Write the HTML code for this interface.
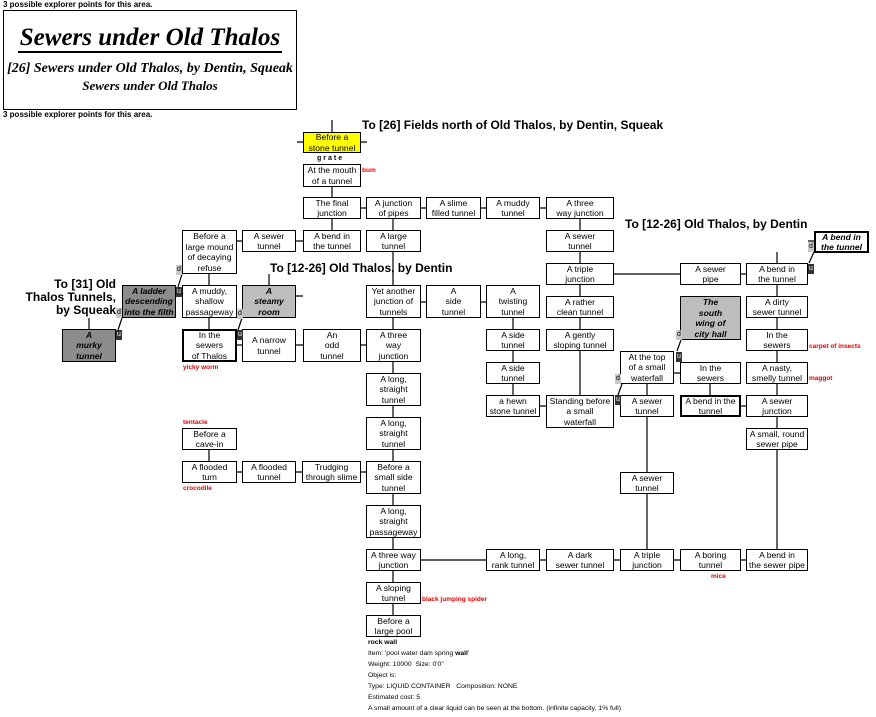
<!DOCTYPE html>
<html><head><meta charset="utf-8"><style>
body{margin:0;width:876px;height:717px;position:relative;background:#fff;font-family:"Liberation Sans",Arial,sans-serif;overflow:hidden}
.b{position:absolute;box-sizing:border-box;border:1px solid #000;background:#fff;display:flex;align-items:center;justify-content:center;text-align:center;font-size:8.6px;line-height:10.5px;color:#000;z-index:2}
.g{background:#bdbdbd;font-weight:bold;font-style:italic}
.dg{background:#8c8c8c;font-weight:bold;font-style:italic}
.t{border-width:2px}
.r{position:absolute;color:#e00000;font-size:6.5px;font-weight:bold;z-index:3}
.lab{position:absolute;font-weight:bold;font-size:12px;z-index:3;white-space:nowrap}
.s{position:absolute;font-size:7.5px;z-index:3}
.d{position:absolute;width:6px;height:10px;background:#c8c8c8;font-size:7px;line-height:10px;text-align:center;color:#000;z-index:3}
.u{position:absolute;width:6px;height:10px;background:#333;font-size:7px;line-height:10px;text-align:center;color:#fff;z-index:3}
svg{position:absolute;left:0;top:0;z-index:1}
</style></head><body>
<div class="s" style="left:3px;top:0px;font-size:8px;font-weight:bold">3 possible explorer points for this area.</div>
<div style="position:absolute;left:3px;top:10px;width:292px;height:98px;border:1px solid #000;text-align:center;font-family:'Liberation Serif',serif;font-style:italic;font-weight:bold">
<div style="font-size:25px;margin-top:14px;line-height:26px"><span style="border-bottom:2px solid #000;padding:0 2px">Sewers under Old Thalos</span></div>
<div style="font-size:14px;margin-top:9px;line-height:17px">[26] Sewers under Old Thalos, by Dentin, Squeak</div>
<div style="font-size:13px;line-height:17px">Sewers under Old Thalos</div>
</div>
<div class="s" style="left:3px;top:110px;font-size:8px;font-weight:bold">3 possible explorer points for this area.</div>

<svg width="876" height="717" stroke="#000" stroke-width="1.2" fill="none">
<path d="M332 120V132M297 142H367M332 187V197M361 208H426M481 208H486M540 208H546M332 219V230M393 219V230M580 219V263M237 241H303M209 274V285M209 318V329M269 274V285M296 296H303M89 318V329M237 345H366M393 252V285M421 302H486M393 318V329M393 362V615M614 274H746M580 285V395M513 318V395M540 406H546M674 373H680M647 384V549M710 384V395M741 406H746M777 252V549M808 241H814M421 560H746M209 450V461M237 472H366"/>
<path d="M118 330L122 318M178 287L182 274M238 330L242 318M618 395L622 384M677 351L681 340M809 263L814 252"/>
</svg>

<div class="lab" style="left:362px;top:118px">To [26] Fields north of Old Thalos, by Dentin, Squeak</div>
<div class="lab" style="left:270px;top:261px">To [12-26] Old Thalos, by Dentin</div>
<div class="lab" style="left:625px;top:217px">To [12-26] Old Thalos, by Dentin</div>
<div class="lab" style="left:20px;top:278px;text-align:right;width:96px;line-height:13px;white-space:normal">To [31] Old Thalos Tunnels, by Squeak</div>

<div class="b" style="left:303px;top:132px;width:58px;height:21px;background:#ffff00">Before a<br>stone tunnel</div>
<div class="s" style="left:317px;top:155px;font-weight:bold;letter-spacing:2px;font-size:7px">grate</div>
<div class="b" style="left:303px;top:164px;width:58px;height:23px">At the mouth<br>of a tunnel</div>
<div class="r" style="left:362px;top:167px">bum</div>
<div class="b" style="left:303px;top:197px;width:58px;height:22px">The final<br>junction</div>
<div class="b" style="left:366px;top:197px;width:55px;height:22px">A junction<br>of pipes</div>
<div class="b" style="left:426px;top:197px;width:55px;height:22px">A slime<br>filled tunnel</div>
<div class="b" style="left:486px;top:197px;width:54px;height:22px">A muddy<br>tunnel</div>
<div class="b" style="left:546px;top:197px;width:68px;height:22px">A three<br>way junction</div>

<div class="b" style="left:182px;top:230px;width:55px;height:44px">Before a<br>large mound<br>of decaying<br>refuse</div>
<div class="b" style="left:242px;top:230px;width:54px;height:22px">A sewer<br>tunnel</div>
<div class="b" style="left:303px;top:230px;width:58px;height:22px">A bend in<br>the tunnel</div>
<div class="b" style="left:366px;top:230px;width:55px;height:22px">A large<br>tunnel</div>
<div class="b" style="left:546px;top:230px;width:68px;height:22px">A sewer<br>tunnel</div>
<div class="b t" style="left:814px;top:231px;width:55px;height:22px;font-style:italic;font-weight:bold;background:#fff">A bend in<br>the tunnel</div>

<div class="b" style="left:546px;top:263px;width:68px;height:22px">A triple<br>junction</div>
<div class="b" style="left:680px;top:263px;width:61px;height:22px">A sewer<br>pipe</div>
<div class="b" style="left:746px;top:263px;width:62px;height:22px">A bend in<br>the tunnel</div>

<div class="b dg" style="left:122px;top:285px;width:54px;height:33px">A ladder<br>descending<br>into the filth</div>
<div class="b" style="left:182px;top:285px;width:55px;height:33px">A muddy,<br>shallow<br>passageway</div>
<div class="b g" style="left:242px;top:285px;width:54px;height:33px">A<br>steamy<br>room</div>
<div class="b" style="left:366px;top:285px;width:55px;height:33px">Yet another<br>junction of<br>tunnels</div>
<div class="b" style="left:426px;top:285px;width:55px;height:33px">A<br>side<br>tunnel</div>
<div class="b" style="left:486px;top:285px;width:54px;height:33px">A<br>twisting<br>tunnel</div>
<div class="b" style="left:546px;top:296px;width:68px;height:22px">A rather<br>clean tunnel</div>
<div class="b g" style="left:680px;top:296px;width:61px;height:44px">The<br>south<br>wing of<br>city hall</div>
<div class="b" style="left:746px;top:296px;width:62px;height:22px">A dirty<br>sewer tunnel</div>

<div class="b dg" style="left:62px;top:329px;width:54px;height:33px">A<br>murky<br>tunnel</div>
<div class="b t" style="left:182px;top:329px;width:55px;height:33px">In the<br>sewers<br>of Thalos</div>
<div class="r" style="left:183px;top:364px">yicky worm</div>
<div class="b" style="left:242px;top:329px;width:54px;height:33px">A narrow<br>tunnel</div>
<div class="b" style="left:303px;top:329px;width:58px;height:33px">An<br>odd<br>tunnel</div>
<div class="b" style="left:366px;top:329px;width:55px;height:33px">A three<br>way<br>junction</div>
<div class="b" style="left:486px;top:329px;width:54px;height:22px">A side<br>tunnel</div>
<div class="b" style="left:546px;top:329px;width:68px;height:22px">A gently<br>sloping tunnel</div>
<div class="b" style="left:746px;top:329px;width:62px;height:22px">In the<br>sewers</div>
<div class="r" style="left:809px;top:343px">carpet of insects</div>

<div class="b" style="left:620px;top:351px;width:54px;height:33px">At the top<br>of a small<br>waterfall</div>
<div class="b" style="left:680px;top:362px;width:61px;height:22px">In the<br>sewers</div>
<div class="b" style="left:746px;top:362px;width:62px;height:22px">A nasty,<br>smelly tunnel</div>
<div class="r" style="left:809px;top:375px">maggot</div>
<div class="b" style="left:486px;top:362px;width:54px;height:22px">A side<br>tunnel</div>
<div class="b" style="left:366px;top:373px;width:55px;height:33px">A long,<br>straight<br>tunnel</div>

<div class="b" style="left:486px;top:395px;width:54px;height:22px">a hewn<br>stone tunnel</div>
<div class="b" style="left:546px;top:395px;width:68px;height:33px">Standing before<br>a small<br>waterfall</div>
<div class="b" style="left:620px;top:395px;width:54px;height:22px">A sewer<br>tunnel</div>
<div class="b t" style="left:680px;top:395px;width:61px;height:22px">A bend in the<br>tunnel</div>
<div class="b" style="left:746px;top:395px;width:62px;height:22px">A sewer<br>junction</div>

<div class="b" style="left:366px;top:417px;width:55px;height:33px">A long,<br>straight<br>tunnel</div>
<div class="r" style="left:183px;top:419px">tentacle</div>
<div class="b" style="left:182px;top:428px;width:55px;height:22px">Before a<br>cave-in</div>
<div class="b" style="left:746px;top:428px;width:62px;height:22px">A small, round<br>sewer pipe</div>

<div class="b" style="left:182px;top:461px;width:55px;height:22px">A flooded<br>turn</div>
<div class="r" style="left:183px;top:485px">crocodile</div>
<div class="b" style="left:242px;top:461px;width:54px;height:22px">A flooded<br>tunnel</div>
<div class="b" style="left:302px;top:461px;width:59px;height:22px">Trudging<br>through slime</div>
<div class="b" style="left:366px;top:461px;width:55px;height:33px">Before a<br>small side<br>tunnel</div>
<div class="b" style="left:620px;top:472px;width:54px;height:22px">A sewer<br>tunnel</div>

<div class="b" style="left:366px;top:505px;width:55px;height:33px">A long,<br>straight<br>passageway</div>
<div class="b" style="left:366px;top:549px;width:55px;height:22px">A three way<br>junction</div>
<div class="b" style="left:486px;top:549px;width:54px;height:22px">A long,<br>rank tunnel</div>
<div class="b" style="left:546px;top:549px;width:68px;height:22px">A dark<br>sewer tunnel</div>
<div class="b" style="left:620px;top:549px;width:54px;height:22px">A triple<br>junction</div>
<div class="b" style="left:680px;top:549px;width:61px;height:22px">A boring<br>tunnel</div>
<div class="r" style="left:711px;top:573px">mice</div>
<div class="b" style="left:746px;top:549px;width:62px;height:22px">A bend in<br>the sewer pipe</div>
<div class="b" style="left:366px;top:582px;width:55px;height:22px">A sloping<br>tunnel</div>
<div class="r" style="left:422px;top:596px">black jumping spider</div>
<div class="b" style="left:366px;top:615px;width:55px;height:22px">Before a<br>large pool</div>

<div class="s" style="left:368px;top:639px;font-size:6.8px;font-weight:bold">rock wall</div>
<div class="s" style="left:368px;top:650px;font-size:6.8px">Item: 'pool water dam spring <b>wall</b>'</div>
<div class="s" style="left:368px;top:661px;font-size:6.8px">Weight: 10000&nbsp; Size: 0'0"</div>
<div class="s" style="left:368px;top:672px;font-size:6.8px">Object is:</div>
<div class="s" style="left:368px;top:683px;font-size:6.8px">Type: LIQUID CONTAINER&nbsp;&nbsp; Composition: NONE</div>
<div class="s" style="left:368px;top:694px;font-size:6.8px">Estimated cost: 5</div>
<div class="s" style="left:368px;top:705px;font-size:6.8px">A small amount of a clear liquid can be seen at the bottom. (infinite capacity, 1% full)</div>

<div class="d" style="left:116px;top:308px">d</div><div class="u" style="left:116px;top:330px">u</div>
<div class="d" style="left:176px;top:265px">d</div><div class="u" style="left:176px;top:287px">u</div>
<div class="d" style="left:237px;top:309px">d</div><div class="u" style="left:237px;top:330px">u</div>
<div class="d" style="left:615px;top:374px">d</div><div class="u" style="left:615px;top:395px">u</div>
<div class="d" style="left:676px;top:330px">d</div><div class="u" style="left:676px;top:352px">u</div>
<div class="d" style="left:808px;top:242px">d</div><div class="u" style="left:808px;top:264px">u</div>
</body></html>
